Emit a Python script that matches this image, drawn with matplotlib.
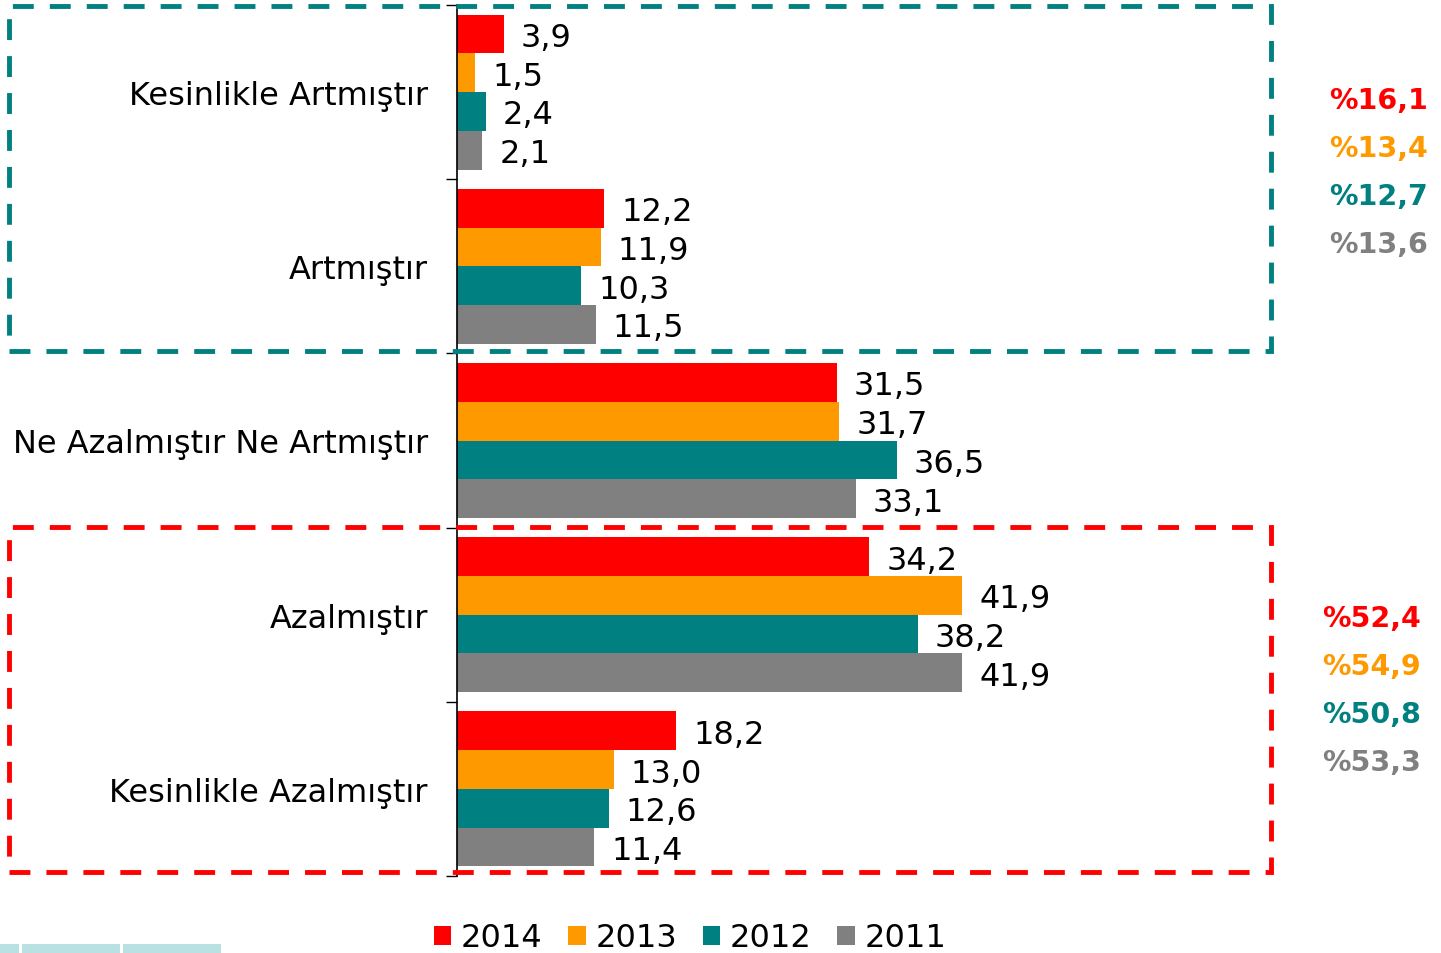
import numpy as np
import matplotlib.pyplot as plt
from matplotlib.patches import Rectangle, Patch

categories = ["Kesinlikle Artmıştır", "Artmıştır", "Ne Azalmıştır Ne Artmıştır",
              "Azalmıştır", "Kesinlikle Azalmıştır"]
years = ["2014", "2013", "2012", "2011"]
v2014 = [3.9, 12.2, 31.5, 34.2, 18.2]
v2013 = [1.5, 11.9, 31.7, 41.9, 13.0]
v2012 = [2.4, 10.3, 36.5, 38.2, 12.6]
v2011 = [2.1, 11.5, 33.1, 41.9, 11.4]
up_totals = ["%16,1", "%13,4", "%12,7", "%13,6"]
down_totals = ["%52,4", "%54,9", "%50,8", "%53,3"]

colors = ["#ff0000", "#ff9900", "#008080", "#808080"]
series = [v2014, v2013, v2012, v2011]

W, H = 1441, 954
fig = plt.figure(figsize=(W / 100, H / 100), dpi=100)
ax = fig.add_axes([457 / W, 1 - 877 / H, 814 / W, 871 / H])

y = np.arange(len(categories))
bh = 0.2227
for i, (vals, c) in enumerate(zip(series, colors)):
    pos = y - 1.5 * bh + i * bh
    ax.barh(pos, vals, height=bh, color=c, edgecolor="none")
    for p, v in zip(pos, vals):
        ax.text(v + 1.4, p, f"{v:.1f}".replace(".", ","), va="center_baseline", ha="left",
                fontsize=23, color="black")

ax.set_xlim(0, 67.5)
ax.set_ylim(4.5, -0.5)
ax.set_xticks([])
ax.set_yticks(np.arange(-0.5, 5.0, 1.0))
ax.set_yticklabels([])
ax.set_yticks(y, minor=True)
ax.set_yticklabels(categories, minor=True, fontsize=23)
ax.tick_params(axis="y", which="major", length=8, width=1, direction="out")
ax.tick_params(axis="y", which="minor", length=0, pad=21)
for s in ["top", "right", "bottom"]:
    ax.spines[s].set_visible(False)
ax.spines["left"].set_linewidth(1.2)

# dashed grouping boxes (pixel coords from top-left)
def box(x0, y0, x1, y1, color):
    r = Rectangle((x0 / W, 1 - y1 / H), (x1 - x0) / W, (y1 - y0) / H,
                  transform=fig.transFigure, fill=False, edgecolor=color,
                  linewidth=3.5, linestyle=(0, (4.3, 3.3)), clip_on=False)
    fig.add_artist(r)

box(9, 7, 1271, 352, "#008080")
box(9, 528, 1271, 873, "#ff0000")

for i, t in enumerate(up_totals):
    fig.text(1428 / W, 1 - (101 + 48 * i) / H, t, color=colors[i], fontsize=20.5,
             fontweight="bold", ha="right", va="center")
for i, t in enumerate(down_totals):
    fig.text(1421 / W, 1 - (619 + 48 * i) / H, t, color=colors[i], fontsize=20.5,
             fontweight="bold", ha="right", va="center")

# light strip at bottom-left
for x0, x1 in [(0, 19), (22, 120), (123, 221)]:
    fig.add_artist(Rectangle((x0 / W, 0), (x1 - x0) / W, 9 / H, transform=fig.transFigure,
                             facecolor="#b9e0e3", edgecolor="none"))

handles = [Patch(facecolor=c, edgecolor="none") for c in colors]
fig.legend(handles, years, loc="center", bbox_to_anchor=(690 / W, 1 - 939 / H), ncol=4,
           frameon=False, fontsize=23, handlelength=0.55, handleheight=0.55,
           handletextpad=0.3, columnspacing=0.8, borderaxespad=0)

fig.savefig("out.png", dpi=100)
